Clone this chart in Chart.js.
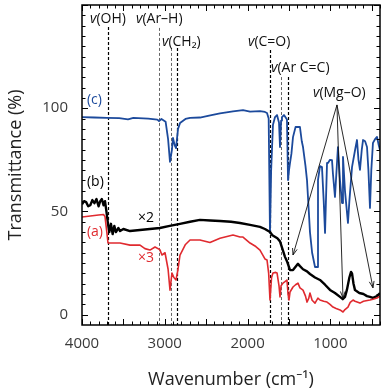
<!DOCTYPE html>
<html>
<head>
<meta charset="utf-8">
<script src="https://cdn.jsdelivr.net/npm/chart.js@4.4.1/dist/chart.umd.min.js"></script>
<style>
  html, body { margin: 0; padding: 0; background: #fff; }
  #wrap { width: 388px; height: 392px; }
</style>
</head>
<body>
<div id="wrap"><canvas id="c" width="388" height="392"></canvas></div>
<script>
// ---- data ----
const X_TICKS = [4000, 3000, 2000, 1000];
const Y_TICKS = [0, 50, 100];

// (c) blue
const wnC = [4000,3850,3700,3550,3444,3380,3200,3090,3070,3040,2990,2960,2937,2913,2901,2880,2864,2840,2816,2750,2695,2575,2450,2333,2176,2055,1970,1850,1790,1765,1745,1735,1729,1715,1693,1668,1644,1620,1608,1595,1584,1560,1540,1524,1511,1499,1487,1470,1451,1420,1403,1367,1345,1330,1300,1282,1260,1246,1220,1185,1161,1149,1125,1101,1080,1064,1040,1028,1004,980,968,944,908,883,859,847,823,787,770,738,700,678,660,642,620,605,580,557,540,521,505,485,460,436,415,400];
const tC  = [95.7,95.5,95.3,95.2,94.6,95.3,95.0,94.5,93.8,94.8,93.5,85,74.0,80,85.6,82,80.7,90,92.8,94.8,95.3,95.5,96.5,97.5,98.5,99.1,98.4,98.6,98.2,97.7,95,60,39.6,70,92,95.7,96.7,93,81.2,94,95.7,96.7,95.5,94.5,65.2,70,73.5,78,86,90.9,90.9,90.9,84,81.2,72,65.2,50,40,30,23.1,23.1,65.2,72,71.5,55,39.6,73.5,73.5,75,74.9,68,57.0,81.2,65,54.1,76.4,60,44.4,55,71.5,80,84.6,75,70.1,80,84.6,84,81.2,70,51.7,70,83.2,85,86.1,82,79.8];

// (b) black, x2
const wnB = [4000,3975,3950,3925,3900,3875,3850,3825,3800,3780,3760,3740,3722,3705,3686,3670,3650,3630,3610,3590,3560,3540,3500,3420,3300,3180,3060,2940,2816,2695,2575,2450,2333,2200,2091,1970,1850,1790,1729,1700,1640,1608,1572,1548,1520,1487,1451,1403,1391,1367,1330,1282,1246,1185,1125,1064,1004,944,883,850,823,800,770,750,738,720,702,650,600,557,521,485,436,400];
const tB  = [53.5,55,54.5,52.5,53,55.5,54,56,52.5,55,56,53,55,50,44,40,44,39,43,40,42,40.5,41.5,40.5,41,41.5,42,43,44,45,45.9,45.6,45.4,45,44.4,43.5,42.5,41.5,40,38.5,37,35.5,31,28,25.5,21.6,21.6,24.1,24.6,23.5,22,21,19.7,18,16.8,14.5,12,10.5,8.6,7.5,8.6,12,18,20.7,20,15,11.9,10.5,10,9,8.6,8.1,9,10.5];

// (a) red, x3
const wnA = [4000,3900,3800,3740,3722,3700,3686,3662,3541,3420,3299,3240,3179,3118,3060,3034,2997,2960,2937,2913,2890,2864,2840,2816,2750,2695,2575,2454,2333,2176,2091,2055,1970,1900,1850,1790,1765,1745,1729,1710,1693,1660,1644,1620,1608,1595,1572,1548,1524,1511,1499,1487,1451,1420,1391,1367,1330,1300,1282,1260,1246,1220,1185,1150,1125,1080,1040,1004,968,930,883,847,823,787,760,726,702,642,600,521,485,436,400];
const tA  = [47.3,47.8,48.3,48.5,47.5,40,34.7,34.7,34.7,33.7,33.7,32,31.3,32.8,31.5,28.9,30,22,11.9,20.2,18,16.8,22,28.9,34,36.2,36.2,35,37,38.6,37.6,37.6,34.7,33,31.3,27,26.5,20,7.1,18,20.2,20.5,20.2,14,8.6,14,15.3,16,16.8,10,7.1,11,13.4,14.5,15.3,13,11.9,9,6.1,8,10.5,7,5.6,8,7.1,6.5,6.1,5,3.7,3,2.3,1.3,2.5,3.7,6,7.1,6.5,5.6,6.5,7.1,7.5,8.1,9];

// assignment markers (wavenumber) and label text
const bandLines = [3690, 3070, 2920, 2850, 1730, 1600, 1510];
const bandLabels = ['(OH)', '(Ar–H)', '(CH₂)', '(C=O)', '(Ar C=C)', '(Mg–O)'];
const mgoTargets = [[1451, 28.9], [847, 8.1], [485, 13.0]];

const toXY = (xs, ys) => xs.map((x, i) => ({ x, y: ys[i] }));

const BLUE = '#1c4a9c', RED = '#e02a2f', BLACK = '#000';
const FONT = "'Open Sans', 'Noto Sans', sans-serif";

const deco = {
  id: 'deco',
  beforeDatasetsDraw(chart) {
    const { ctx, chartArea: a, scales: { x, y } } = chart;
    ctx.save();
    const tops = [139.3, 138.9, 129.2, 129.2, 128.2, 115.1, 115.1];
    const styles = [[1.2,'#000'],[0.9,'#555'],[0.9,'#555'],[1.2,'#000'],[1.2,'#000'],[0.9,'#555'],[1.2,'#000']];
    bandLines.forEach((wn, i) => {
      const px = Math.round(x.getPixelForValue(wn)) + 0.5;
      ctx.beginPath();
      ctx.setLineDash([3, 2]);
      ctx.lineWidth = styles[i][0];
      ctx.strokeStyle = styles[i][1];
      ctx.moveTo(px, y.getPixelForValue(tops[i]));
      ctx.lineTo(px, a.bottom);
      ctx.stroke();
    });
    ctx.restore();
  },
  afterDatasetsDraw(chart) {
    const { ctx, chartArea: a, scales: { x, y } } = chart;
    ctx.save();
    ctx.setLineDash([]);
    ctx.strokeStyle = '#000';
    ctx.lineWidth = 1.5;
    ctx.strokeRect(a.left, a.top, a.right - a.left, a.bottom - a.top);
    ctx.lineWidth = 1;
    ctx.beginPath();
    for (let v = 400; v <= 4000; v += 100) {
      const px = Math.round(x.getPixelForValue(v)) + 0.5;
      const len = (v % 500 === 0) ? 6 : 3.5;
      ctx.moveTo(px, a.bottom); ctx.lineTo(px, a.bottom - len);
      ctx.moveTo(px, a.top); ctx.lineTo(px, a.top + len);
    }
    for (let v = 0; v <= 150; v += 5) {
      const py = Math.round(y.getPixelForValue(v)) + 0.5;
      const len = (v % 50 === 0) ? 6 : 3.5;
      ctx.moveTo(a.left, py); ctx.lineTo(a.left + len, py);
      ctx.moveTo(a.right, py); ctx.lineTo(a.right - len, py);
    }
    ctx.stroke();

    const pos = [[3903,143.2],[3348,143.2],[3034,132.1],[1995,132.1],[1717,119.5],[1210,107.4]];
    ctx.fillStyle = '#111';
    ctx.textBaseline = 'middle';
    ctx.textAlign = 'left';
    bandLabels.forEach((t, i) => {
      const px = x.getPixelForValue(pos[i][0]);
      const py = y.getPixelForValue(pos[i][1]);
      ctx.font = 'italic 14px ' + FONT;
      ctx.fillText('v', px, py);
      const w = ctx.measureText('v').width;
      ctx.font = '14px ' + FONT;
      ctx.fillText(t, px + w, py);
    });

    const sx = x.getPixelForValue(920), sy = y.getPixelForValue(101.6);
    ctx.strokeStyle = '#111';
    ctx.lineWidth = 0.9;
    mgoTargets.forEach(([wn, t]) => {
      const tx = x.getPixelForValue(wn), ty = y.getPixelForValue(t);
      ctx.beginPath();
      ctx.moveTo(sx, sy); ctx.lineTo(tx, ty); ctx.stroke();
      const ang = Math.atan2(ty - sy, tx - sx);
      const L = 7, W = 0.35;
      ctx.beginPath();
      ctx.moveTo(tx, ty);
      ctx.lineTo(tx - L * Math.cos(ang - W), ty - L * Math.sin(ang - W));
      ctx.moveTo(tx, ty);
      ctx.lineTo(tx - L * Math.cos(ang + W), ty - L * Math.sin(ang + W));
      ctx.stroke();
    });

    const lab = [['(c)', 3940, 104, BLUE], ['(b)', 3940, 64.3, BLACK], ['(a)', 3940, 40, RED],
                 ['×2', 3323, 46.8, BLACK], ['×3', 3323, 27.5, RED]];
    ctx.font = '14px ' + FONT;
    lab.forEach(([t, wn, v, c]) => {
      ctx.fillStyle = c;
      ctx.fillText(t, x.getPixelForValue(wn), y.getPixelForValue(v));
    });
    ctx.restore();
  }
};

new Chart(document.getElementById('c'), {
  type: 'line',
  data: {
    datasets: [
      { label: '(a)', data: toXY(wnA, tA), borderColor: RED, borderWidth: 1.6 },
      { label: '(b)', data: toXY(wnB, tB), borderColor: BLACK, borderWidth: 2.4 },
      { label: '(c)', data: toXY(wnC, tC), borderColor: BLUE, borderWidth: 1.8 }
    ]
  },
  options: {
    responsive: false,
    animation: false,
    devicePixelRatio: 1,
    elements: { point: { radius: 0 }, line: { tension: 0, borderJoinStyle: 'round' } },
    layout: { padding: { top: 5, right: 8, left: 0, bottom: 0 } },
    plugins: { legend: { display: false }, tooltip: { enabled: false } },
    scales: {
      x: {
        type: 'linear', reverse: true, min: 400, max: 4000,
        afterBuildTicks: s => { s.ticks = X_TICKS.map(v => ({ value: v })); },
        afterFit: s => { s.height = 67; s.paddingLeft = 0; s.paddingRight = 0; },
        grid: { display: false, drawTicks: false },
        border: { display: false },
        ticks: { font: { family: FONT, size: 15 }, color: '#3a3a3a', padding: 10, maxRotation: 0, autoSkip: false, callback: v => String(v) },
        title: { display: true, text: 'Wavenumber (cm⁻¹)', font: { family: FONT, size: 18 }, color: '#222', padding: { top: 0, bottom: 1 } }
      },
      y: {
        type: 'linear', min: -5, max: 150,
        afterBuildTicks: s => { s.ticks = Y_TICKS.map(v => ({ value: v })); },
        afterFit: s => { s.width = 82; s.paddingTop = 0; s.paddingBottom = 0; },
        grid: { display: false, drawTicks: false },
        border: { display: false },
        ticks: { font: { family: FONT, size: 15 }, color: '#3a3a3a', padding: 14, callback: v => String(v) },
        title: { display: true, text: 'Transmittance (%)', font: { family: FONT, size: 18 }, color: '#222', padding: { top: 5, bottom: 0 } }
      }
    }
  },
  plugins: [deco]
});
</script>
</body>
</html>
